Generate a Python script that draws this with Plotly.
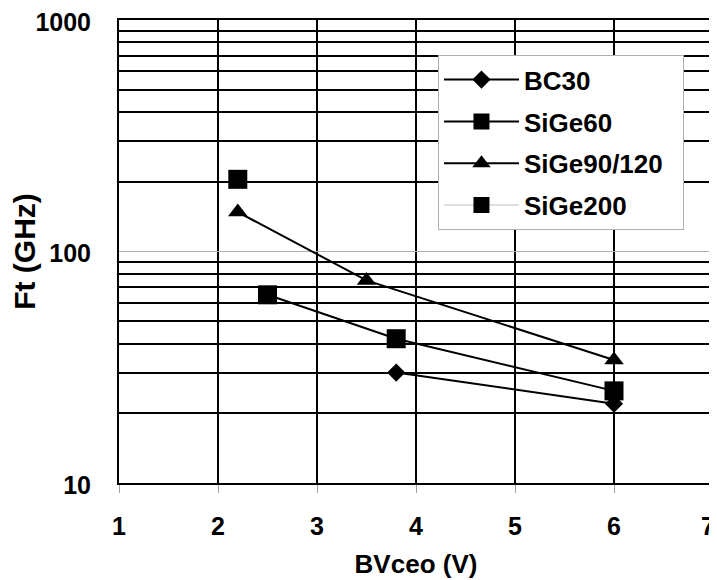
import plotly.graph_objects as go

# Data
bc30_x = [3.8, 6.0]
bc30_y = [30, 22]
sige60_x = [2.5, 3.8, 6.0]
sige60_y = [65, 42, 25]
sige90_x = [2.2, 3.5, 6.0]
sige90_y = [148, 75, 34]
sige200_x = [2.2]
sige200_y = [205]

x_ticks = [1, 2, 3, 4, 5, 6, 7]
x_ticktext = ["1", "2", "3", "4", "5", "6", "7\u2009\u2009"]
y_major = [10, 100, 1000]
y_minor = [20, 30, 40, 50, 60, 70, 80, 90, 200, 300, 400, 500, 600, 700, 800, 900]

FONT = "Liberation Sans, Arial, sans-serif"

fig = go.Figure()
fig.add_trace(go.Scatter(x=bc30_x, y=bc30_y, name="BC30", mode="lines+markers",
                         line=dict(color="black", width=2),
                         marker=dict(symbol="diamond", size=14, color="black"),
                         legendgroup="a"))
fig.add_trace(go.Scatter(x=sige60_x, y=sige60_y, name="SiGe60", mode="lines+markers",
                         line=dict(color="black", width=2),
                         marker=dict(symbol="square", size=19, color="black"),
                         legendgroup="b"))
fig.add_trace(go.Scatter(x=sige90_x, y=sige90_y, name="SiGe90/120\u00a0\u00a0", mode="lines+markers",
                         line=dict(color="black", width=2),
                         marker=dict(symbol="triangle-up", size=17, color="black"),
                         legendgroup="c"))
fig.add_trace(go.Scatter(x=sige200_x, y=sige200_y, name="SiGe200", mode="lines+markers",
                         line=dict(color="#c0c0c0", width=1),
                         marker=dict(symbol="square", size=19, color="black"),
                         legendgroup="d"))

fig.update_layout(
    width=717, height=580,
    margin=dict(l=111, r=12, t=12, b=105),
    paper_bgcolor="white", plot_bgcolor="white",
    font=dict(family=FONT, size=25, color="black", weight="bold"),
    showlegend=True,
    legend=dict(x=0.537, y=0.924, xanchor="left", yanchor="top",
                bgcolor="white", bordercolor="#b0b0b0", borderwidth=1,
                font=dict(family=FONT, size=26, color="black", weight="bold"),
                traceorder="grouped", tracegroupgap=5, itemwidth=75),
    xaxis=dict(range=[1, 7], tickvals=x_ticks, ticktext=x_ticktext,
               showgrid=True, gridcolor="black", gridwidth=2,
               showline=True, linecolor="black", linewidth=2, mirror=True,
               ticks="outside", ticklen=8, tickcolor="#a0a0a0", tickwidth=1,
               zeroline=False, automargin=False, ticklabeloverflow="allow",
               ticklabelstandoff=12,
               tickfont=dict(family=FONT, size=25, color="black", weight="bold"),
               title=dict(text="BVceo (V)", standoff=16,
                          font=dict(family=FONT, size=26, color="black", weight="bold"))),
    yaxis=dict(type="log", range=[1, 3], tickvals=y_major, ticktext=[str(v) for v in y_major],
               showgrid=True, gridcolor="#b0b0b0", gridwidth=1,
               showline=True, linecolor="black", linewidth=2, mirror=True,
               ticks="", zeroline=False, automargin=False, ticklabeloverflow="allow",
               ticklabelstandoff=21, ticklabelshift=2,
               minor=dict(tickvals=y_minor, showgrid=True, gridcolor="black", gridwidth=2, ticks=""),
               tickfont=dict(family=FONT, size=25, color="black", weight="bold"),
               title=dict(text="Ft (GHz)", standoff=0,
                          font=dict(family=FONT, size=30, color="black", weight="bold"))),
)

fig.write_html("out.html")
